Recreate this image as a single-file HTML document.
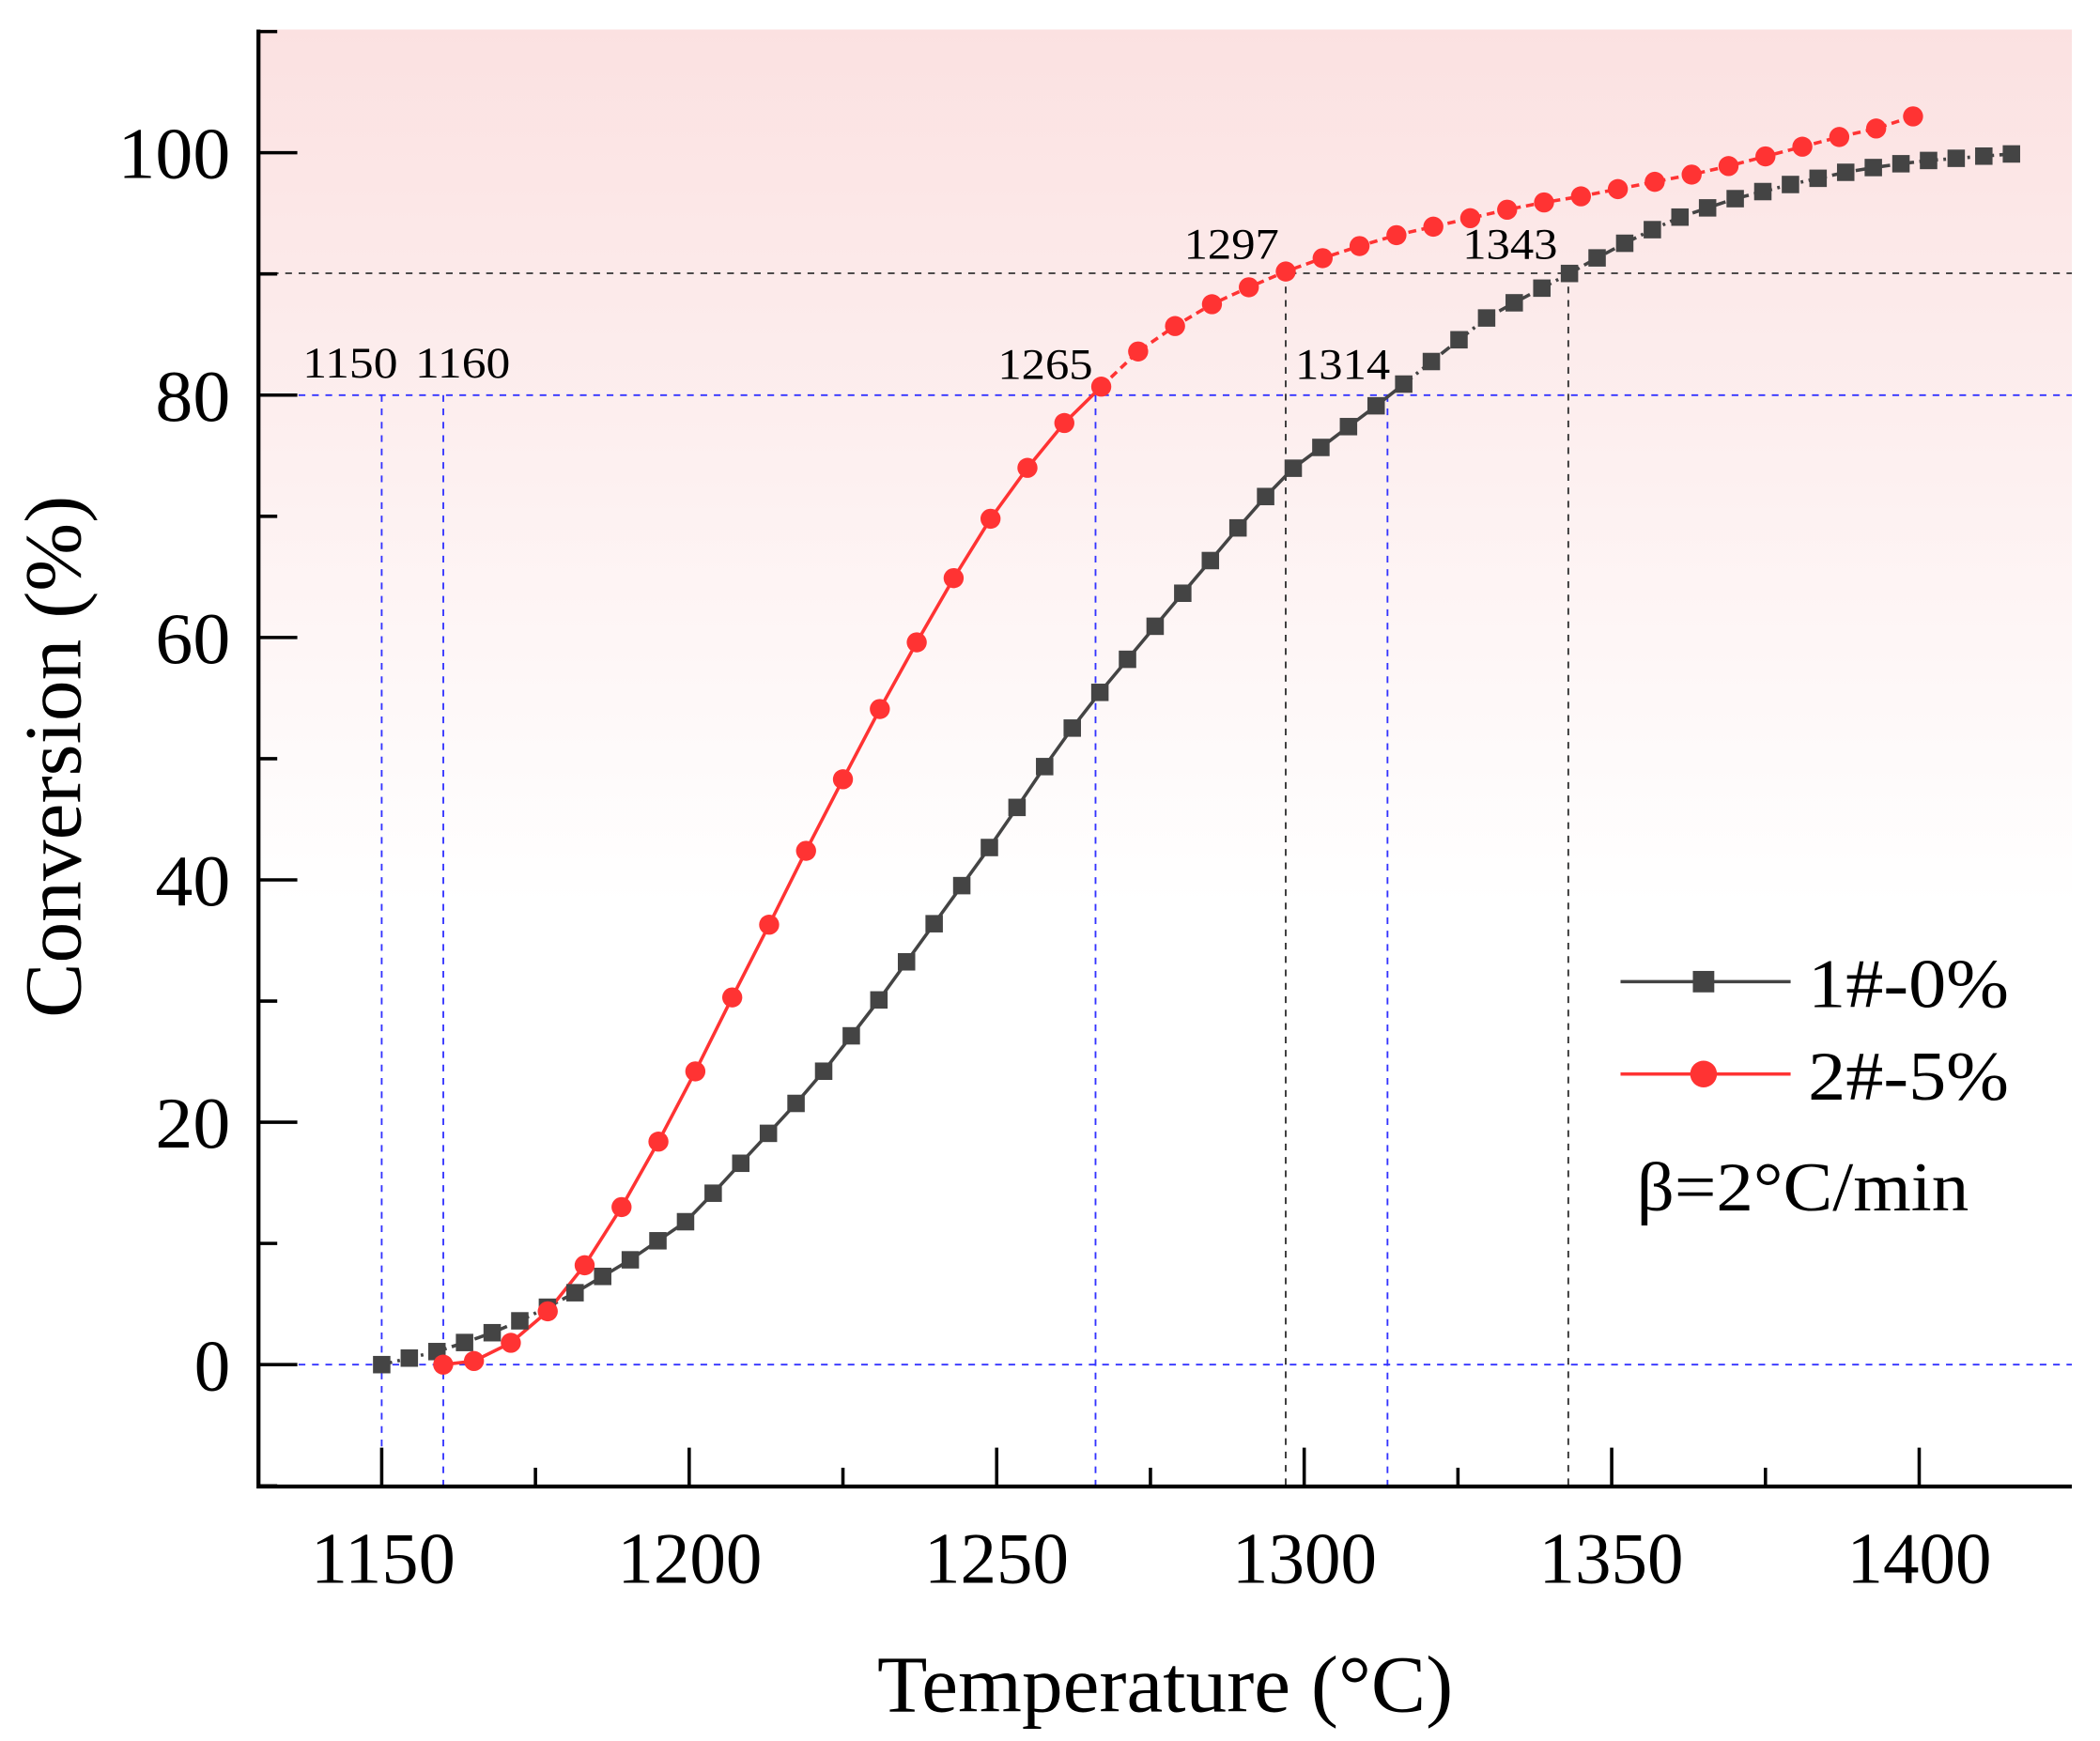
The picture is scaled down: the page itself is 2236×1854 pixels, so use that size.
<!DOCTYPE html>
<html><head><meta charset="utf-8"><style>
html,body{margin:0;padding:0;background:#fff}
svg{display:block}
text{font-family:"Liberation Serif",serif;fill:#000}
</style></head><body>
<svg id="s" width="2236" height="1854" viewBox="0 0 1568 1300" xmlns="http://www.w3.org/2000/svg">
<defs>
<linearGradient id="bg" x1="0" y1="0" x2="0" y2="1">
<stop offset="0" stop-color="#fbe1e1"/>
<stop offset="0.6" stop-color="#ffffff"/>
<stop offset="1" stop-color="#ffffff"/>
</linearGradient>
</defs>
<rect x="193" y="22" width="1354" height="1088" fill="url(#bg)"/>
<g fill="none" stroke-width="1.3" stroke-dasharray="5,5">
<line x1="193" y1="295" x2="1547" y2="295" stroke="#3333ff"/>
<line x1="193" y1="1019" x2="1547" y2="1019" stroke="#3333ff"/>
<line x1="193" y1="204" x2="1547" y2="204" stroke="#333"/>
<line x1="285" y1="295" x2="285" y2="1110" stroke="#3333ff"/>
<line x1="331" y1="295" x2="331" y2="1110" stroke="#3333ff"/>
<line x1="818" y1="295" x2="818" y2="1110" stroke="#3333ff"/>
<line x1="1036" y1="295" x2="1036" y2="1110" stroke="#3333ff"/>
<line x1="960" y1="204" x2="960" y2="1110" stroke="#333"/>
<line x1="1171" y1="204" x2="1171" y2="1110" stroke="#333"/>
</g>
<g id="data"></g>
<g id="ticks" stroke="#000" stroke-width="2.5"></g>
<path d="M193,22 V1110 H1547" fill="none" stroke="#000" stroke-width="3"/>
<g font-size="54" text-anchor="end">
<text x="172" y="1038">0</text>
<text x="172" y="857" textLength="56" lengthAdjust="spacingAndGlyphs">20</text>
<text x="172" y="676" textLength="56" lengthAdjust="spacingAndGlyphs">40</text>
<text x="172" y="495" textLength="56" lengthAdjust="spacingAndGlyphs">60</text>
<text x="172" y="314" textLength="56" lengthAdjust="spacingAndGlyphs">80</text>
<text x="172" y="133" textLength="84" lengthAdjust="spacingAndGlyphs">100</text>
</g>
<g font-size="54">
<text x="232" y="1182" textLength="108" lengthAdjust="spacingAndGlyphs">1150</text>
<text x="461" y="1182" textLength="108" lengthAdjust="spacingAndGlyphs">1200</text>
<text x="690" y="1182" textLength="108" lengthAdjust="spacingAndGlyphs">1250</text>
<text x="920" y="1182" textLength="108" lengthAdjust="spacingAndGlyphs">1300</text>
<text x="1149" y="1182" textLength="108" lengthAdjust="spacingAndGlyphs">1350</text>
<text x="1379" y="1182" textLength="108" lengthAdjust="spacingAndGlyphs">1400</text>
</g>
<text x="655" y="1278" font-size="60" textLength="430" lengthAdjust="spacingAndGlyphs">Temperature (°C)</text>
<text transform="translate(60,760) rotate(-90)" font-size="60" textLength="390" lengthAdjust="spacingAndGlyphs">Conversion (%)</text>
<g font-size="33">
<text x="226" y="282" textLength="71" lengthAdjust="spacingAndGlyphs">1150</text>
<text x="310" y="282" textLength="71" lengthAdjust="spacingAndGlyphs">1160</text>
<text x="745" y="283" textLength="71" lengthAdjust="spacingAndGlyphs">1265</text>
<text x="967" y="283" textLength="71" lengthAdjust="spacingAndGlyphs">1314</text>
<text x="884" y="193" textLength="71" lengthAdjust="spacingAndGlyphs">1297</text>
<text x="1092" y="193" textLength="71" lengthAdjust="spacingAndGlyphs">1343</text>
</g>
<line x1="1210" y1="733" x2="1337" y2="733" stroke="#444" stroke-width="2.5"/>
<rect x="1264" y="725" width="16" height="16" fill="#444"/>
<text x="1350" y="752" font-size="52" textLength="150" lengthAdjust="spacingAndGlyphs">1#-0%</text>
<line x1="1210" y1="802" x2="1337" y2="802" stroke="#f33" stroke-width="2.5"/>
<circle cx="1272" cy="802" r="10" fill="#f33"/>
<text x="1350" y="821" font-size="52" textLength="150" lengthAdjust="spacingAndGlyphs">2#-5%</text>
<text x="1222" y="904" font-size="52" textLength="248" lengthAdjust="spacingAndGlyphs">β=2°C/min</text>
</svg>
<script>
var NS="http://www.w3.org/2000/svg";
function X(t){return 285+(t-1150)*229.6/50;}
function Y(c){return 1019-c*9.05;}
var blackA=[[1150,0],[1160,1.2],[1170,3],[1180,5.5],[1190,8.5],[1200,12],[1210,17.5],[1220,23],[1230,29.5],[1240,36.5],[1250,43.5],[1260,51],[1266,55],[1280,63.5],[1290,69.5],[1297,73.5],[1314,80],[1320,82.5],[1330,86.5],[1343,90],[1350,92],[1360,94.5],[1370,96.2],[1380,97.5],[1390,98.6],[1400,99.3],[1415,99.9]];
function interp(a,t){for(var i=0;i<a.length-1;i++){if(t<=a[i+1][0]){var f=(t-a[i][0])/(a[i+1][0]-a[i][0]);return a[i][1]+f*(a[i+1][1]-a[i][1]);}}return a[a.length-1][1];}
var bp=[];for(var i=0;i<=59;i++){var t=1150+i*265/59;bp.push([t,interp(blackA,t)]);}
var red=[[1160,0],[1165,0.3],[1171,1.8],[1177,4.4],[1183,8.2],[1189,13],[1195,18.4],[1201,24.2],[1207,30.3],[1213,36.3],[1219,42.4],[1225,48.3],[1231,54.1],[1237,59.6],[1243,64.9],[1249,69.8],[1255,74],[1261,77.7],[1267,80.7],[1273,83.6],[1279,85.7],[1285,87.5],[1291,88.9],[1297,90.2],[1303,91.3],[1309,92.3],[1315,93.2],[1321,93.9],[1327,94.6],[1333,95.3],[1339,95.9],[1345,96.4],[1351,97],[1357,97.6],[1363,98.2],[1369,98.9],[1375,99.7],[1381,100.5],[1387,101.3],[1393,102],[1399,103]];
var g=document.getElementById("data");
function poly(pts,col,dash){var p=document.createElementNS(NS,"polyline");p.setAttribute("points",pts.map(function(q){return X(q[0]).toFixed(1)+","+Y(q[1]).toFixed(1);}).join(" "));p.setAttribute("fill","none");p.setAttribute("stroke",col);p.setAttribute("stroke-width","2.5");if(dash)p.setAttribute("stroke-dasharray",dash);g.appendChild(p);}
var b1=bp.filter(function(q){return q[0]<=1185;}),b2=bp.filter(function(q){return q[0]>=1180&&q[0]<=1320;}),b3=bp.filter(function(q){return q[0]>=1316;});
poly(b1,"#444","8,4,2,4");poly(b2,"#444");poly(b3,"#444","8,4,2,4");
poly(red.filter(function(q){return q[0]<=1267;}),"#f33");poly(red.filter(function(q){return q[0]>=1267;}),"#f33","6,4");
bp.forEach(function(q){var r=document.createElementNS(NS,"rect");r.setAttribute("x",X(q[0])-6.5);r.setAttribute("y",Y(q[1])-6.5);r.setAttribute("width",13);r.setAttribute("height",13);r.setAttribute("fill","#444");g.appendChild(r);});
red.forEach(function(q){var c=document.createElementNS(NS,"circle");c.setAttribute("cx",X(q[0]));c.setAttribute("cy",Y(q[1]));c.setAttribute("r",7.5);c.setAttribute("fill","#f33");g.appendChild(c);});
var tk=document.getElementById("ticks");
function ln(x1,y1,x2,y2){var l=document.createElementNS(NS,"line");l.setAttribute("x1",x1);l.setAttribute("y1",y1);l.setAttribute("x2",x2);l.setAttribute("y2",y2);tk.appendChild(l);}
for(var v=-10;v<=110;v+=10){var y=Y(v);if(y<22||y>1110)continue;ln(193,y,(v%20==0)?222:207,y);}
for(var t=1125;t<=1425;t+=25){var x=X(t);if(x<193||x>1547)continue;ln(x,1110,x,(t%50==0)?1081:1096);}
</script>
</body></html>
